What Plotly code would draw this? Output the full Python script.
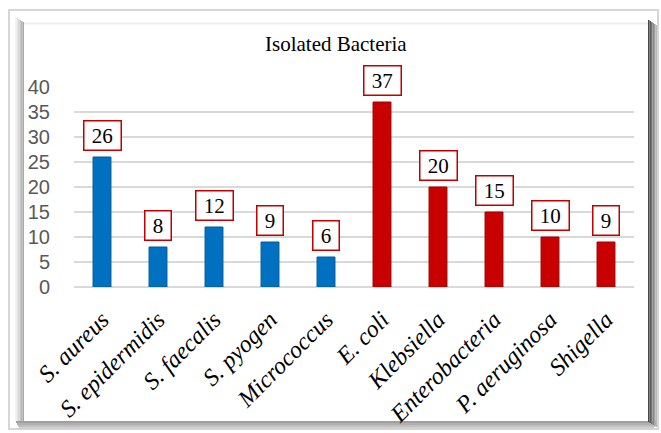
import plotly.graph_objects as go

# Isolated bacteria counts
organisms = ["S. aureus", "S. epidermidis", "S. faecalis", "S. pyogen", "Micrococcus",
             "E. coli", "Klebsiella", "Enterobacteria", "P. aeruginosa", "Shigella"]
counts = [26, 8, 12, 9, 6, 37, 20, 15, 10, 9]
groups = ["gram+", "gram+", "gram+", "gram+", "gram+",
          "gram-", "gram-", "gram-", "gram-", "gram-"]
y_ticks = [0, 5, 10, 15, 20, 25, 30, 35, 40]
title_text = "Isolated Bacteria"

group_colors = {"gram+": "#0070C0", "gram-": "#C80000"}
group_edges = {"gram+": "#005A9E", "gram-": "#A00000"}

W, H = 661, 433
ML, MR, MT, MB = 74, 27, 87, 146
PW, PH = W - ML - MR, H - MT - MB


def px(x):
    return (x - ML) / PW


def py(y):
    return (H - MB - y) / PH


fig = go.Figure(go.Bar(
    x=organisms,
    y=counts,
    marker=dict(color=[group_colors[g] for g in groups],
                line=dict(color=[group_edges[g] for g in groups], width=1)),
    hoverinfo="x+y",
))

# value boxes above each bar
for name, v in zip(organisms, counts):
    fig.add_annotation(
        x=name, y=v, xref="x", yref="y",
        text="\u00a0" + str(v) + "\u00a0",
        showarrow=False, yanchor="bottom", yshift=6,
        font=dict(family="Liberation Serif", size=21, color="#000000"),
        bgcolor="#FFFFFF", bordercolor="#C00000", borderwidth=1.5, borderpad=2,
    )

fig.add_annotation(
    x=px(336), y=py(44), xref="paper", yref="paper",
    text=title_text, showarrow=False, xanchor="center", yanchor="middle",
    font=dict(family="Liberation Serif", size=21, color="#000000"),
)

# picture frame with bevelled edges
shapes = []


def rect(x0, y0, x1, y1, fill=None, line=None, lw=0):
    shapes.append(dict(
        type="rect", xref="paper", yref="paper", layer="below",
        x0=px(x0), x1=px(x1), y0=py(y1), y1=py(y0),
        fillcolor=fill if fill else "rgba(0,0,0,0)",
        line=dict(color=line if line else "rgba(0,0,0,0)", width=lw),
    ))


rect(9, 10, 658, 429, line="#D6D6D6", lw=2)
# left bevel
for i, c in enumerate(["#F2F2F2", "#E6E6E6", "#D8D8D8", "#C8C8C8", "#B8B8B8", "#A8A8A8"]):
    rect(15 + i * 1.5, 17 + i, 16.5 + i * 1.5, 421, fill=c)
# top inner edge
rect(24, 22.5, 648, 24.5, fill="#EDEDED")
# bottom bevel
for i, c in enumerate(["#A0A0A0", "#B0B0B0", "#C0C0C0", "#D0D0D0"]):
    rect(16 + i, 421 + i * 2, 657 - i, 423 + i * 2, fill=c)
# right bevel
for i, c in enumerate(["#4A4A4A", "#5E5E5E", "#747474", "#8A8A8A", "#A0A0A0", "#B8B8B8"]):
    rect(648 + i * 1.5, 20 + i, 649.5 + i * 1.5, 422 + i, fill=c)

fig.update_layout(
    width=W, height=H,
    margin=dict(l=ML, r=MR, t=MT, b=MB),
    paper_bgcolor="#FFFFFF",
    plot_bgcolor="rgba(0,0,0,0)",
    showlegend=False,
    bargap=0.68,
    shapes=shapes,
    xaxis=dict(
        tickangle=-45, automargin=False,
        tickfont=dict(family="Liberation Serif", size=24, color="#000000", style="italic"),
        ticks="outside", ticklen=8, tickcolor="rgba(0,0,0,0)",
        showgrid=False, showline=False, zeroline=False, fixedrange=True,
    ),
    yaxis=dict(
        range=[0, 40], tickvals=y_ticks, automargin=False,
        tickfont=dict(family="Liberation Sans", size=20, color="#595959"),
        showgrid=True, gridcolor="#D9D9D9", gridwidth=2,
        zeroline=True, zerolinecolor="#D9D9D9", zerolinewidth=2,
        showline=False, ticklabelstandoff=23, fixedrange=True,
    ),
)

fig.write_html("out.html")
